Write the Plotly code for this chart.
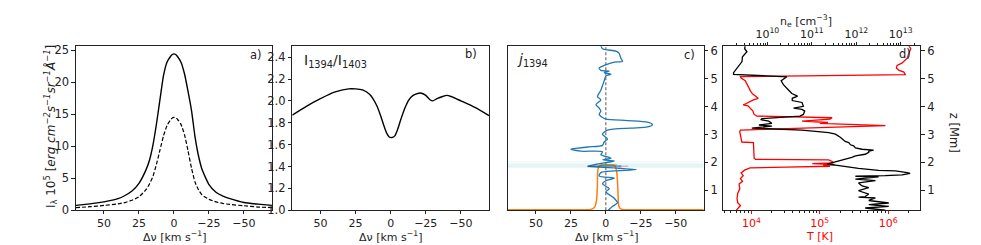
import math
import plotly.graph_objects as go

# ---------------- data ----------------
# panel a: line profiles
dv_a = [70, 60, 50, 40, 35, 30, 25, 20, 17.5, 15, 12.5, 10, 7.5, 5, 2.5, 1.2, 0,
        -1.2, -2.5, -5, -7.5, -10, -12.5, -15, -17.5, -20, -25, -30, -35, -40, -50, -60, -70]
I_1394 = [0.75, 1.0, 1.3, 1.8, 2.3, 3.0, 4.2, 6.3, 7.8, 10.2, 13.5, 17.3, 21.0, 23.1, 24.0, 24.3, 24.4,
          24.3, 24.0, 23.1, 21.3, 18.6, 15.6, 11.5, 8.5, 6.4, 4.0, 2.8, 2.2, 1.8, 1.2, 0.95, 0.75]
I_1403 = [0.4, 0.55, 0.75, 1.0, 1.2, 1.55, 2.1, 3.2, 4.1, 5.3, 7.2, 9.4, 11.6, 13.2, 14.1, 14.4, 14.5,
          14.45, 14.2, 13.4, 11.8, 9.3, 6.6, 4.4, 3.2, 2.4, 1.7, 1.3, 1.05, 0.9, 0.7, 0.5, 0.4]

# panel b: ratio
dv_b = [70, 60, 50, 40, 30, 25, 20, 15, 10, 7, 5, 3, 1, -1, -3, -5, -7, -10, -13, -16,
        -20, -22, -25, -28, -30, -33, -37, -40, -43, -50, -60, -70]
ratio = [1.87, 1.95, 2.02, 2.08, 2.11, 2.11, 2.10, 2.06, 1.96, 1.86, 1.78, 1.71, 1.67, 1.665,
         1.68, 1.74, 1.82, 1.93, 2.01, 2.05, 2.07, 2.07, 2.05, 2.01, 2.00, 2.02, 2.04, 2.05,
         2.04, 2.00, 1.94, 1.865]

# panel c: velocity (blue) and tau=1 (orange) vs height
z_vel = [6.20, 6.08, 5.99, 5.91, 5.74, 5.62, 5.60, 5.48, 5.39, 5.30, 5.28, 5.22, 5.16, 5.10,
         4.93, 4.76, 4.59, 4.36, 4.24, 4.07, 3.95, 3.84, 3.72, 3.61, 3.55, 3.50, 3.44, 3.35,
         3.27, 3.23, 3.16, 3.01, 2.84, 2.73, 2.61, 2.55, 2.47, 2.40, 2.38, 2.27, 2.21, 2.15,
         2.09, 2.05, 1.98, 1.86, 1.83, 1.74, 1.69, 1.63, 1.51, 1.43, 1.34, 1.23, 1.05, 0.94,
         0.71, 0.54, 0.42, 0.25]
dv_vel = [3.6, 2.4, -7.1, -9.5, -10.7, -11.9, -6, 1.2, 4.8, 3.6, -2.4, 1.2, -3.6, 0,
          1.2, 2.4, 3.6, 6, 3.6, 7.1, 4.8, 3.6, 4.8, 2.4, 0, -15.5, -29.8, -33.3,
          -29.8, -17.9, -1.2, 2.4, -1.2, 1.2, 2.4, 13, 25, 17.9, 2.4, 3.6, 0, -3.6,
          2.4, -6, 1.2, 13, 3.6, -22, -6, 3.6, 4.8, -6, 0, 2.4, -2.4, 0,
          -6, -8.3, -4.8, -1.2]
dv_tau = [70, 30, 15, 11, 9.5, 8, 6.8, 6.2, 6.0, 5.8, 5.2, 4.2, 2, 0, -2, -4, -5.8, -6.8,
          -7.6, -8.2, -8.6, -8.9, -9.3, -10.5, -12, -16, -30, -70]
z_tau = [0.30, 0.30, 0.30, 0.31, 0.33, 0.40, 0.6, 1.0, 1.4, 1.7, 1.84, 1.89, 1.90, 1.90, 1.90,
         1.90, 1.89, 1.84, 1.7, 1.4, 1.0, 0.6, 0.42, 0.33, 0.31, 0.30, 0.30, 0.30]
stripe_z = [2.02, 1.96, 1.91, 1.86, 1.81]

# panel d: temperature and electron density vs height
z_T = [6.20, 6.08, 5.91, 5.74, 5.56, 5.48, 5.39, 5.30, 5.24, 5.15, 5.08, 5.03, 4.93, 4.82,
       4.70, 4.55, 4.45, 4.36, 4.30, 4.24, 4.16, 4.10, 4.06, 4.03, 3.95, 3.85, 3.72, 3.66,
       3.60, 3.55, 3.48, 3.43, 3.40, 3.32, 3.29, 3.16, 3.10, 2.95, 2.80, 2.73, 2.71, 2.50,
       2.30, 2.15, 2.11, 2.09, 2.03, 1.98, 1.95, 1.92, 1.89, 1.86, 1.83, 1.80, 1.72, 1.62,
       1.52, 1.42, 1.32, 1.22, 1.05, 0.88, 0.70, 0.55, 0.45, 0.35, 0.25]
log_T = [6.30, 6.33, 6.30, 6.28, 6.20, 6.13, 6.12, 6.16, 6.23, 6.25, 3.84, 3.85, 3.91, 3.93,
         3.96, 3.99, 4.02, 4.08, 4.10, 4.03, 3.96, 3.90, 3.88, 3.95, 3.98, 4.02, 4.04, 4.08,
         5.18, 5.15, 4.74, 5.12, 5.00, 5.96, 5.60, 3.84, 3.83, 3.84, 3.85, 3.86, 4.03, 4.035,
         4.04, 4.04, 4.06, 5.13, 5.18, 5.20, 4.89, 5.22, 5.05, 5.15, 4.50, 3.98, 3.90, 3.85,
         3.88, 3.84, 3.87, 3.82, 3.83, 3.80, 3.79, 3.80, 3.84, 3.80, 3.77]
z_ne = [6.20, 6.08, 5.97, 5.79, 5.62, 5.45, 5.33, 5.22, 5.16, 5.07, 4.93, 4.79, 4.59, 4.47,
        4.38, 4.30, 4.22, 4.15, 4.01, 3.95, 3.90, 3.84, 3.72, 3.66, 3.57, 3.53, 3.48, 3.40,
        3.34, 3.30, 3.23, 3.16, 3.07, 3.01, 2.90, 2.82, 2.75, 2.71, 2.63, 2.59, 2.52, 2.47,
        2.44, 2.40, 2.36, 2.29, 2.27, 2.23, 2.18, 2.09, 2.04, 1.98, 1.94, 1.90, 1.83, 1.78,
        1.71, 1.69, 1.63, 1.60, 1.55, 1.52, 1.50, 1.48, 1.40, 1.34, 1.26, 1.15, 1.09, 0.98,
        0.86, 0.77, 0.75, 0.72, 0.63, 0.54, 0.48, 0.42, 0.36, 0.28]
log_ne = [9.50, 9.49, 9.54, 9.44, 9.43, 9.35, 9.28, 9.24, 9.24, 10.44, 10.31, 10.36, 10.48, 10.55,
          10.68, 10.56, 10.56, 10.78, 10.81, 10.59, 10.78, 10.84, 10.81, 10.73, 9.88, 9.85, 10.03, 10.10,
          9.81, 10.10, 9.65, 10.78, 11.38, 11.53, 11.64, 11.71, 11.75, 11.83, 11.87, 11.94, 11.98, 12.13,
          12.39, 12.28, 12.28, 12.20, 12.09, 11.98, 11.90, 11.68, 11.60, 11.45, 11.34, 11.53, 11.83, 12.05,
          12.50, 12.88, 13.14, 13.21, 13.03, 12.65, 11.98, 12.50, 11.98, 12.43, 12.05, 12.13, 12.28, 12.05,
          12.28, 12.20, 12.05, 12.43, 12.28, 12.73, 12.28, 12.73, 12.20, 12.65]
vline_T = [1.6e4, 4.1e4, 5.0e4, 1.32e5]

dv_ticks = [50, 25, 0, -25, -50]
dv_ticktext = ["50", "25", "0", "\u221225", "\u221250"]

# ---------------- figure ----------------
FONT = "DejaVu Sans"
FS = 11.5
INK = "#222"
fig = go.Figure()

# panel a
fig.add_trace(go.Scatter(x=dv_a, y=I_1394, mode="lines", line=dict(color="black", width=1.4, shape="spline", smoothing=0.5),
                         xaxis="x", yaxis="y", showlegend=False))
fig.add_trace(go.Scatter(x=dv_a, y=I_1403, mode="lines", line=dict(color="black", width=1.2, dash="4px,2px", shape="spline", smoothing=0.5),
                         xaxis="x", yaxis="y", showlegend=False))
# panel b
fig.add_trace(go.Scatter(x=dv_b, y=ratio, mode="lines", line=dict(color="black", width=1.4, shape="spline", smoothing=0.6),
                         xaxis="x2", yaxis="y2", showlegend=False))
# panel c stripes (faint emissivity image)
stripe_cols = ["rgba(140,215,225,0.25)", "rgba(150,220,200,0.25)", "rgba(120,200,220,0.35)",
               "rgba(110,190,215,0.35)", "rgba(150,215,230,0.25)"]
for zz, cc in zip(stripe_z, stripe_cols):
    fig.add_trace(go.Scatter(x=[70, -70], y=[zz, zz], mode="lines", line=dict(color=cc, width=0.8),
                             xaxis="x3", yaxis="y3", showlegend=False, hoverinfo="skip"))
fig.add_trace(go.Scatter(x=dv_tau, y=z_tau, mode="lines", line=dict(color="#ff7f0e", width=1.5, shape="spline", smoothing=0.5),
                         xaxis="x3", yaxis="y3", showlegend=False))
fig.add_trace(go.Scatter(x=dv_vel, y=z_vel, mode="lines", line=dict(color="#1f77b4", width=1.3, shape="spline", smoothing=0.7),
                         xaxis="x3", yaxis="y3", showlegend=False))
# darker core of the emissivity image
fig.add_trace(go.Scatter(x=[13, -11], y=[stripe_z[3], stripe_z[3]], mode="lines", line=dict(color="rgba(25,70,120,0.5)", width=2),
                         xaxis="x3", yaxis="y3", showlegend=False, hoverinfo="skip"))
fig.add_trace(go.Scatter(x=[4, -8], y=[stripe_z[2], stripe_z[2]], mode="lines", line=dict(color="rgba(40,150,90,0.45)", width=1.5),
                         xaxis="x3", yaxis="y3", showlegend=False, hoverinfo="skip"))
fig.add_trace(go.Scatter(x=[-9, -16], y=[stripe_z[3], stripe_z[3]], mode="lines", line=dict(color="rgba(190,60,170,0.35)", width=1.5),
                         xaxis="x3", yaxis="y3", showlegend=False, hoverinfo="skip"))
# panel d
fig.add_trace(go.Scatter(x=[10 ** v for v in log_T], y=z_T, mode="lines", line=dict(color="red", width=1.3),
                         xaxis="x4", yaxis="y4", showlegend=False))
fig.add_trace(go.Scatter(x=[10 ** v for v in log_ne], y=z_ne, mode="lines", line=dict(color="black", width=1.3),
                         xaxis="x5", yaxis="y4", showlegend=False))

ydom = [0.1522, 0.8502]
base_ax = dict(showgrid=False, zeroline=False, showline=True, mirror=True, linecolor=INK, linewidth=1,
               ticks="outside", ticklen=3.5, tickwidth=1, tickcolor=INK,
               tickfont=dict(family=FONT, size=FS, color=INK))


def xdv(dom, anchor):
    d = dict(base_ax)
    d.update(domain=dom, anchor=anchor, range=[70, -70], tickvals=dv_ticks, ticktext=dv_ticktext,
             ticklen=3, tickfont=dict(family=FONT, size=11, color=INK))
    return d


shapes = [dict(type="line", xref="x3", yref="y3 domain", x0=0, x1=0, y0=0, y1=1,
               line=dict(color="#555", width=1, dash="3px,2px"), layer="below")]
vstyles = [("#bbb", "4px,2px"), ("#888", "4px,2px"), ("#ccc", "1px,2px"), ("#bbb", "1px,2px")]
for tv, (col, ds) in zip(vline_T, vstyles):
    shapes.append(dict(type="line", xref="x4", yref="y4 domain", x0=math.log10(tv), x1=math.log10(tv), y0=0, y1=1,
                       line=dict(color=col, width=1, dash=ds), layer="below"))

T_minor = [a * 10 ** e for e in (3, 4, 5) for a in range(2, 10)] + [2e6]
ne_minor = [a * 10 ** e for e in (9, 10, 11, 12) for a in range(2, 10)] + [2e13]

ax4 = dict(base_ax)
ax4.update(domain=[0.7292, 0.9300], anchor="y4", type="log", range=[3.59, 6.47], ticklen=3,
           tickvals=[1e4, 1e5, 1e6], ticktext=["10<sup>4</sup>", "10<sup>5</sup>", "10<sup>6</sup>"],
           tickfont=dict(family=FONT, size=11, color="red"), tickcolor="red",
           minor=dict(ticks="outside", ticklen=2, tickcolor=INK, tickvals=T_minor, showgrid=False))
ax5 = dict(showgrid=False, zeroline=False, showline=False, ticks="outside", ticklen=3, tickcolor=INK,
           tickfont=dict(family=FONT, size=11, color=INK))
ax5.update(overlaying="x4", side="top", anchor="y4", type="log", range=[9.01, 13.44],
           tickvals=[1e10, 1e11, 1e12, 1e13],
           ticktext=["10<sup>10</sup>", "10<sup>11</sup>", "10<sup>12</sup>", "10<sup>13</sup>"],
           minor=dict(ticks="outside", ticklen=2, tickcolor=INK, tickvals=ne_minor, showgrid=False))

ya = dict(base_ax); ya.update(domain=ydom, anchor="x", range=[0, 25.6], tickvals=[0, 5, 10, 15, 20, 25])
yb = dict(base_ax); yb.update(domain=ydom, anchor="x2", range=[1.0, 2.5],
                              tickvals=[1.0, 1.2, 1.4, 1.6, 1.8, 2.0, 2.2, 2.4],
                              ticktext=["1.0", "1.2", "1.4", "1.6", "1.8", "2.0", "2.2", "2.4"])
yc = dict(base_ax); yc.update(domain=ydom, anchor="x3", side="right", range=[0.28, 6.17], tickvals=[1, 2, 3, 4, 5, 6])
yd = dict(base_ax); yd.update(domain=ydom, anchor="x4", side="right", range=[0.28, 6.17], tickvals=[1, 2, 3, 4, 5, 6])


def ann(text, x, y, size=FS, color=INK, xa="center", ya_="middle", angle=0):
    return dict(text=text, x=x, y=y, xref="paper", yref="paper", showarrow=False, xanchor=xa, yanchor=ya_,
                textangle=angle, font=dict(family=FONT, size=size, color=color), borderpad=0)


xt = "\u0394\u03bd [km s<sup>\u22121</sup>]"
YT = 1 - 235.5 / 245
annotations = [
    ann("a)", 0.2528, 0.8122),
    ann("b)", 0.4720, 0.8163),
    ann("c)", 0.6950, 0.8122),
    ann("d)", 0.9144, 0.8163),
    ann("I<sub>1394</sub>/I<sub>1403</sub>", 0.3007, 0.7878, size=14, xa="left"),
    ann("<i>j</i><sub>1394</sub>", 0.5178, 0.7918, size=14, xa="left"),
    ann(xt, 166.7 / 981, YT, size=11),
    ann(xt, 382.7 / 981, YT, size=11),
    ann(xt, 598.3 / 981, YT, size=11),
    ann("T [K]", 811.7 / 981, 1 - 235 / 245, color="red", size=11),
    ann("n<sub>e</sub> [cm<sup>\u22123</sup>]", 797.5 / 981, 1 - 10 / 245, size=11),
    ann("z [Mm]", 946 / 981, 0.4816, angle=90),
    ann("I<sub>\u03bb</sub> 10<sup>5</sup> [<i>erg cm<sup>\u22122</sup>s<sup>\u22121</sup>sr<sup>\u22121</sup>\u00c5<sup>\u22121</sup></i>]",
        43 / 981, 0.506, angle=-90, size=12),
]

fig.update_layout(
    width=981, height=245, margin=dict(l=0, r=0, t=0, b=0),
    paper_bgcolor="white", plot_bgcolor="white",
    font=dict(family=FONT, size=FS, color=INK),
    xaxis=xdv([0.0693, 0.2691], "y"), yaxis=ya,
    xaxis2=xdv([0.2898, 0.4903], "y2"), yaxis2=yb,
    xaxis3=xdv([0.5097, 0.7092], "y3"), yaxis3=yc,
    xaxis4=ax4, xaxis5=ax5, yaxis4=yd,
    shapes=shapes, annotations=annotations,
)

fig.write_html("out.html")
